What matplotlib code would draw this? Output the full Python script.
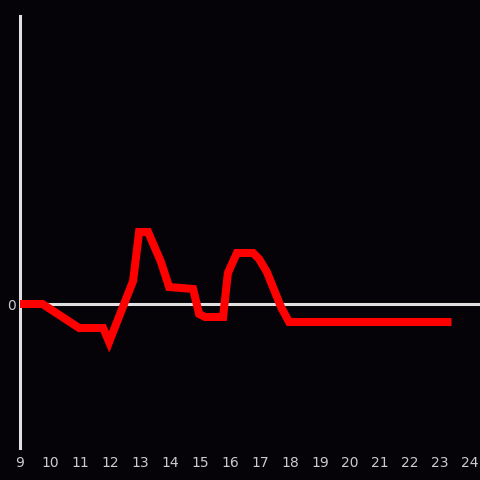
import matplotlib.pyplot as plt

hours = [9.0, 9.75, 10.97, 11.77, 11.97, 12.77, 12.97, 13.27, 13.7, 13.97, 14.77,
         14.97, 15.17, 15.77, 15.93, 16.23, 16.77, 16.97, 17.23, 17.7, 17.97, 23.25]
values = [0, 0, -24, -24, -38, 23, 72, 72, 42, 17, 15,
          -10, -13, -13, 31, 51, 51, 45, 32, -3, -18, -18]
xticks = list(range(9, 25))

bg = "#050307"
axis_col = "#e0e0e0"

fig = plt.figure(figsize=(4.8, 4.8), dpi=100, facecolor=bg)
ax = fig.add_axes([20/480, 32/480, 460/480, 432/480], facecolor=bg)

ax.axhline(0, color=axis_col, lw=2.2, zorder=1)
ax.plot(hours, values, color="#ff0000", lw=5.8, zorder=3, solid_joinstyle="miter")

ax.set_xlim(9, 9 + 460/30)
ax.set_ylim(-144, 288)

for s in ["top", "right", "bottom"]:
    ax.spines[s].set_visible(False)
ax.spines["left"].set_color(axis_col)
ax.spines["left"].set_linewidth(2.2)

ax.set_xticks(xticks)
ax.set_xticklabels([str(t) for t in xticks])
ax.set_yticks([0])
ax.set_yticklabels(["0"])
ax.tick_params(axis="both", length=0, colors="#cccccc", labelsize=10)
ax.tick_params(axis="x", pad=6)
ax.tick_params(axis="y", pad=3)

fig.savefig("out.png", dpi=100, facecolor=bg)
